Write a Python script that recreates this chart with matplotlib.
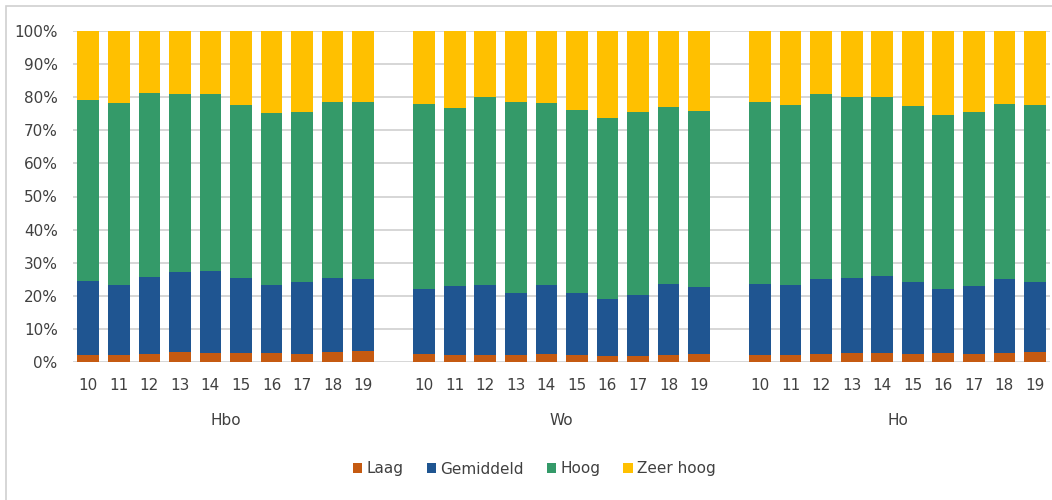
import matplotlib.pyplot as plt
from matplotlib.patches import Rectangle
import numpy as np

# percentages per year (10..19) for each education level
years = ['10', '11', '12', '13', '14', '15', '16', '17', '18', '19']
groups = ['Hbo', 'Wo', 'Ho']
series = ['Laag', 'Gemiddeld', 'Hoog', 'Zeer hoog']
colors = ['#C55A11', '#1F5591', '#349A69', '#FFC000']

hbo_laag = [2.1, 2.1, 2.4, 2.9, 2.8, 2.7, 2.8, 2.4, 2.9, 3.2]
hbo_gem = [22.3, 21.3, 23.3, 24.4, 24.8, 22.8, 20.6, 21.9, 22.6, 21.8]
hbo_hoog = [54.7, 54.8, 55.7, 53.6, 53.3, 52.1, 51.8, 51.2, 53.0, 53.5]
hbo_zeer = [20.9, 21.8, 18.6, 19.1, 19.1, 22.4, 24.8, 24.5, 21.5, 21.5]

wo_laag = [2.4, 2.1, 2.1, 2.2, 2.5, 2.1, 1.8, 1.9, 2.2, 2.4]
wo_gem = [19.6, 21.0, 21.3, 18.6, 20.7, 18.8, 17.1, 18.2, 21.4, 20.4]
wo_hoog = [55.8, 53.6, 56.6, 57.7, 55.0, 55.2, 54.7, 55.5, 53.4, 53.0]
wo_zeer = [22.2, 23.3, 20.0, 21.5, 21.8, 23.9, 26.4, 24.4, 23.0, 24.2]

ho_laag = [2.1, 2.1, 2.3, 2.7, 2.7, 2.4, 2.6, 2.3, 2.6, 2.9]
ho_gem = [21.4, 21.2, 22.7, 22.8, 23.4, 21.7, 19.5, 20.8, 22.4, 21.2]
ho_hoog = [55.1, 54.3, 56.0, 54.7, 54.0, 53.1, 52.5, 52.4, 52.9, 53.5]
ho_zeer = [21.4, 22.4, 19.0, 19.8, 19.9, 22.8, 25.4, 24.5, 22.1, 22.4]

data = {
    'Hbo': [hbo_laag, hbo_gem, hbo_hoog, hbo_zeer],
    'Wo': [wo_laag, wo_gem, wo_hoog, wo_zeer],
    'Ho': [ho_laag, ho_gem, ho_hoog, ho_zeer],
}

txt = '#404040'
plt.rcParams['font.family'] = 'DejaVu Sans'

fig = plt.figure(figsize=(10.52, 5.0), dpi=100)
ax = fig.add_axes([0.0694, 0.276, 0.9289, 0.662])

n = len(years)
for g, name in enumerate(groups):
    x = np.arange(n) + g * (n + 1)
    bottom = np.zeros(n)
    for s, vals in enumerate(data[name]):
        ax.bar(x, vals, bottom=bottom, width=0.71, color=colors[s],
               label=series[s] if g == 0 else None, zorder=3)
        bottom += np.array(vals)
    for xi, yr in zip(x, years):
        ax.text(xi, -0.07, yr, transform=ax.get_xaxis_transform(),
                ha='center', va='center', fontsize=11, color=txt)
    ax.text(x.mean(), -0.178, name, transform=ax.get_xaxis_transform(),
            ha='center', va='center', fontsize=11, color=txt)

ax.set_xlim(-0.5, 3 * n + 1.5)
ax.set_ylim(0, 100)
ax.set_yticks(np.arange(0, 101, 10))
ax.set_yticklabels([f'{v}%' for v in range(0, 101, 10)], fontsize=11, color=txt)
ax.set_xticks([])
ax.tick_params(axis='y', length=0, pad=11)
ax.grid(axis='y', color='#d0d0d0', linewidth=1.2, zorder=0)
for sp in ax.spines.values():
    sp.set_visible(False)

leg = fig.legend(loc='center', bbox_to_anchor=(0.508, 0.062), ncol=4, frameon=False,
                 fontsize=11, handlelength=0.6, handleheight=0.6, handletextpad=0.3,
                 columnspacing=1.5)
for t in leg.get_texts():
    t.set_color(txt)

# chart-area frame, cut off at the right and bottom like the original screenshot
fig.patches.append(Rectangle((0.006, -0.02), 1.05, 1.008, transform=fig.transFigure,
                             fill=False, edgecolor='#d0d0d0', linewidth=1.2))

fig.savefig('out.png', dpi=100)
